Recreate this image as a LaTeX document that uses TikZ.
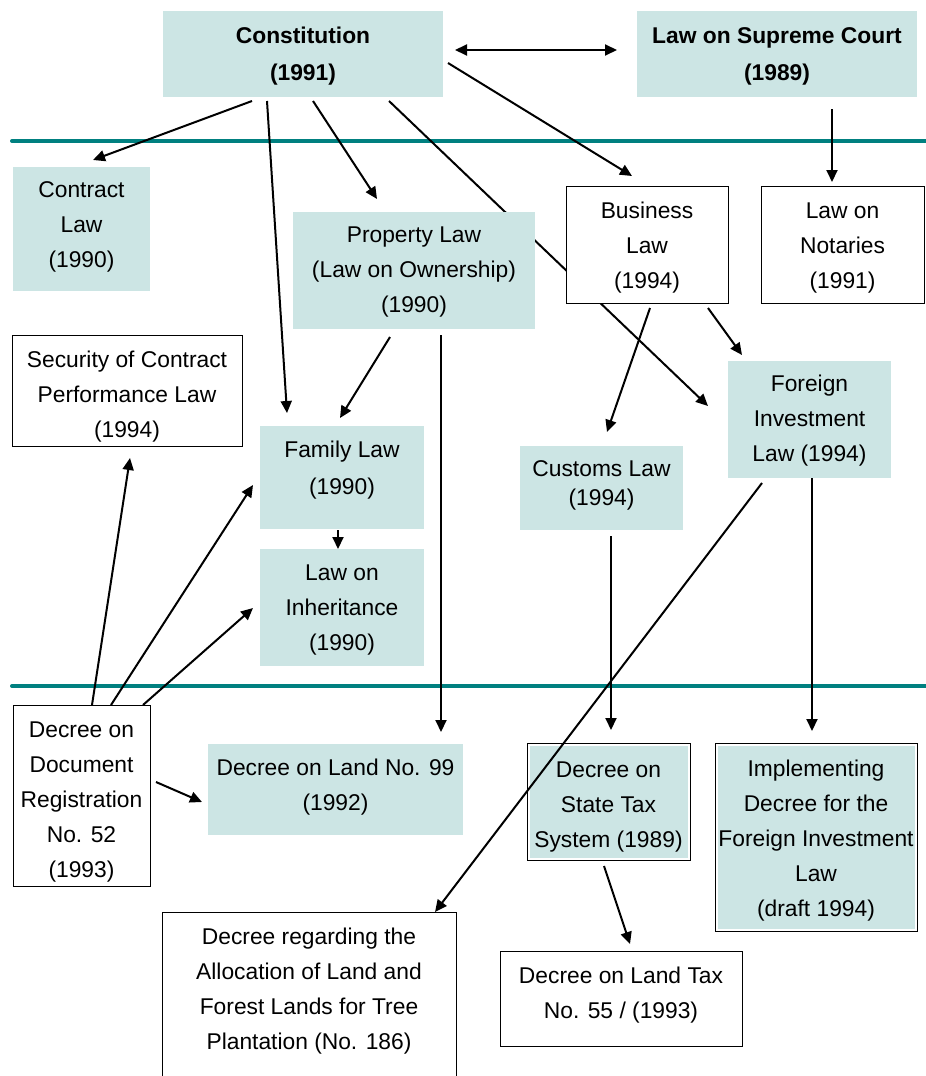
\documentclass[tikz,border=0pt]{standalone}
\usepackage{fontspec}
\setmainfont{Liberation Sans}
\usetikzlibrary{arrows.meta,calc}
\pgfdeclarelayer{background}
\pgfsetlayers{background,main}
\definecolor{boxfill}{RGB}{204,229,228}
\definecolor{tealrule}{RGB}{0,128,128}
\newcommand\tb[1]{\rule{0pt}{24.2pt}#1\rule[-7.8pt]{0pt}{7.8pt}}
\tikzset{
  fbox/.style={fill=boxfill, draw=none, inner sep=0pt, outer sep=0pt, anchor=north west},
  wbox/.style={draw=black, line width=1pt, fill=white, inner sep=0pt, outer sep=0pt, anchor=north west},
  txt/.style={align=center, inner sep=0pt, font=\fontsize{22.8}{35}\selectfont},
  btxt/.style={txt, font=\fontsize{22.8}{35}\selectfont\bfseries},
  arr/.style={line width=2pt, -{Triangle[length=12pt,width=11pt]}},
  arrboth/.style={line width=2pt, {Triangle[length=12pt,width=11pt]}-{Triangle[length=12pt,width=11pt]}},
  tealline/.style={draw=tealrule, line width=4pt, line cap=round}
}
\begin{document}
\begin{tikzpicture}[x=1pt,y=-1pt]
\useasboundingbox (0,0) rectangle (926,1076);

% boxes
\node[fbox, minimum width=280pt, minimum height=86pt] (const) at (163,11) {};
\node[btxt] (constT) at (303,53.5) {\tb{Constitution\\[2pt](1991)}};
\node[fbox, minimum width=280pt, minimum height=86pt] (supreme) at (637,11) {};
\node[btxt] (supremeT) at (777,53.5) {\tb{Law on Supreme Court\\[2pt](1989)}};

\node[fbox, minimum width=137pt, minimum height=124pt] (contract) at (13,167) {};
\node[txt] (contractT) at (81.5,224) {\tb{Contract\\Law\\(1990)}};

\node[fbox, minimum width=242pt, minimum height=117pt] (property) at (293,212) {};
\node[txt] (propertyT) at (414,269) {\tb{Property Law\\(Law on Ownership)\\(1990)}};

\node[wbox, minimum width=162pt, minimum height=117pt] (business) at (566,186) {};
\node[txt] (businessT) at (647,245) {\tb{Business\\Law\\(1994)}};

\node[wbox, minimum width=163pt, minimum height=117pt] (notaries) at (761,186) {};
\node[txt] (notariesT) at (842.5,245) {\tb{Law on\\Notaries\\(1991)}};

\node[wbox, minimum width=230pt, minimum height=111pt] (security) at (12,335) {};
\node[txt] (securityT) at (127,394) {\tb{Security of Contract\\Performance Law\\(1994)}};

\node[fbox, minimum width=163pt, minimum height=117pt] (foreign) at (728,361) {};
\node[txt] (foreignT) at (809.5,418) {\tb{Foreign\\Investment\\Law (1994)}};

\node[fbox, minimum width=164pt, minimum height=103pt] (family) at (260,426) {};
\node[txt] (familyT) at (342,467.5) {\tb{Family Law\\[2pt](1990)}};

\node[fbox, minimum width=163pt, minimum height=84pt] (customs) at (520,446) {};
\node[txt] (customsT) at (601.5,482.5) {\tb{Customs Law\\[-6pt](1994)}};

\node[fbox, minimum width=164pt, minimum height=117pt] (inherit) at (260,549) {};
\node[txt] (inheritT) at (342,607.5) {\tb{Law on\\Inheritance\\(1990)}};

\node[wbox, minimum width=137pt, minimum height=181pt] (docreg) at (13,705) {};
\node[txt] (docregT) at (81.5,799) {\tb{Decree on\\Document\\Registration\\No. 52\\(1993)}};

\node[fbox, minimum width=255pt, minimum height=91pt] (land) at (208,744) {};
\node[txt] (landT) at (335.5,784.5) {\tb{Decree on Land No. 99\\(1992)}};

\node[wbox, minimum width=163pt, minimum height=117pt] (tax) at (527,743) {};
\node[fbox, minimum width=158pt, minimum height=112pt] (taxIn) at (529.5,745.5) {};
\node[txt] (taxT) at (608.5,804) {\tb{Decree on\\State Tax\\System (1989)}};

\node[wbox, minimum width=202pt, minimum height=188pt] (impl) at (715,743) {};
\node[fbox, minimum width=197pt, minimum height=183pt] (implIn) at (717.5,745.5) {};
\node[txt] (implT) at (816,838.5) {\tb{Implementing\\Decree for the\\Foreign Investment\\Law\\(draft 1994)}};

\node[wbox, minimum width=294pt, minimum height=180pt] (forest) at (162,912) {};
\node[txt] (forestT) at (309,989) {\tb{Decree regarding the\\Allocation of Land and\\Forest Lands for Tree\\Plantation (No. 186)}};

\node[wbox, minimum width=242pt, minimum height=95pt] (landtax) at (500,951) {};
\node[txt] (landtaxT) at (621,992.5) {\tb{Decree on Land Tax\\No. 55 / (1993)}};

% background: page, rules and the arrow that runs behind boxes
\begin{pgfonlayer}{background}
\fill[white] (0,0) rectangle (926,1076);
\coordinate (r1a) at (12,141); \coordinate (r1b) at (930,141);
\coordinate (r2a) at (12,686); \coordinate (r2b) at (930,686);
\draw[tealline] (r1a) -- (r1b);
\draw[tealline] (r2a) -- (r2b);
\draw[arr] ($(const.south)+(86,4)$) -- ($(foreign.west)+(-20,-13.5)$);
\end{pgfonlayer}

% connectors
\draw[arrboth] ($(const.east)+(12,-4)$) -- ($(supreme.west)+(-20,-4)$);
\draw[arr] ($(const.south)+(-51,4)$) -- ($(contract.north)+(11.5,-7)$);
\draw[arr] ($(const.south)+(-36,4)$) -- ($(family.north)+(-55,-13)$);
\draw[arr] ($(const.south)+(10,4)$) -- ($(property.north)+(-37,-13)$);
\draw[arr] ($(const.east)+(5,9)$) -- ($(business.north)+(-15,-10)$);
\draw[arr] ($(supreme.south)+(55,12)$) -- ($(notaries.north)+(-10.5,-4)$);
\draw[arr] ($(property.south)+(-24,8)$) -- ($(family.north)+(-2,-8)$);
\draw[arr] ($(property.south)+(27,6)$) -- ($(land.north)+(105.5,-12)$);
\draw[arr] ($(business.south)+(3,5)$) -- ($(customs.north)+(5.5,-14)$);
\draw[arr] ($(business.south)+(61,5)$) -- ($(foreign.north)+(-67.5,-6)$);
\draw[arr] ($(family.south)+(-4,1)$) -- ($(inherit.north)+(-4,0)$);
\draw[arr] ($(foreign.south)+(2.5,0)$) -- ($(impl.north)+(-4,-12)$);
\draw[arr] ($(customs.south)+(9.5,6)$) -- ($(tax.north)+(2.5,-13)$);
\draw[arr] ($(foreign.south)+(-47.5,5)$) -- ($(forest.north)+(126,0)$);
\draw[arr] ($(tax.south)+(-4.5,6)$) -- ($(landtax.north)+(9,-7)$);
\draw[arr] ($(docreg.north)+(10.5,0)$) -- ($(security.south)+(3,12)$);
\draw[arr] ($(docreg.north)+(29.5,0)$) -- ($(family.west)+(-7,7.5)$);
\draw[arr] ($(docreg.north)+(61.5,0)$) -- ($(inherit.west)+(-7,0.5)$);
\draw[arr] ($(docreg.east)+(6,-13.5)$) -- ($(land.west)+(-6,12.5)$);
\end{tikzpicture}
\end{document}
